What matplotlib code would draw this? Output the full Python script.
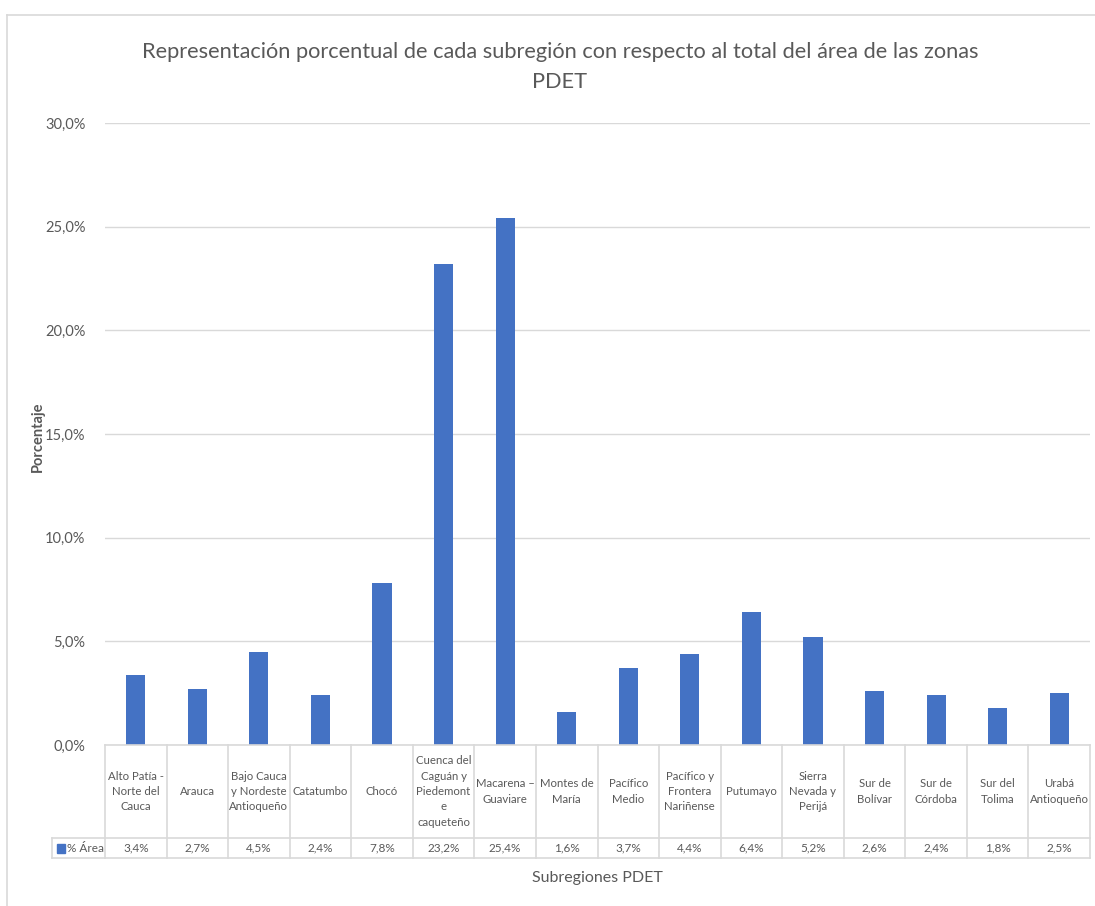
import matplotlib.pyplot as plt
from matplotlib.lines import Line2D
from matplotlib.patches import Rectangle
from matplotlib.ticker import FuncFormatter

categorias = ['Alto Patía -\nNorte del\nCauca', 'Arauca', 'Bajo Cauca\ny Nordeste\nAntioqueño',
              'Catatumbo', 'Chocó', 'Cuenca del\nCaguán y\nPiedemont\ne\ncaqueteño',
              'Macarena –\nGuaviare', 'Montes de\nMaría', 'Pacífico\nMedio',
              'Pacífico y\nFrontera\nNariñense', 'Putumayo', 'Sierra\nNevada y\nPerijá',
              'Sur de\nBolívar', 'Sur de\nCórdoba', 'Sur del\nTolima', 'Urabá\nAntioqueño']
area = [0.034, 0.027, 0.045, 0.024, 0.078, 0.232, 0.254, 0.016,
        0.037, 0.044, 0.064, 0.052, 0.026, 0.024, 0.018, 0.025]
serie = '% Área'

W, H = 1095, 906
azul = '#4472C4'
gris = '#595959'
linea = '#D9D9D9'
plt.rcParams['font.family'] = ['Lato', 'DejaVu Sans']

fig = plt.figure(figsize=(W / 100, H / 100), dpi=100)


def fx(px):
    return px / W


def fy(py):
    return 1 - py / H


x0, x1, yb, yt = 105, 1090, 745, 123
ax = fig.add_axes([fx(x0), fy(yb), fx(x1) - fx(x0), fy(yt) - fy(yb)])
n = len(categorias)
ax.bar(range(n), area, width=0.31, color=azul, zorder=3)
ax.set_xlim(-0.5, n - 0.5)
ax.set_ylim(0, 0.30)
ax.set_yticks([0, 0.05, 0.10, 0.15, 0.20, 0.25, 0.30])
ax.yaxis.set_major_formatter(FuncFormatter(lambda v, p: f'{v * 100:.1f}%'.replace('.', ',')))
ax.tick_params(axis='y', length=0, pad=14, labelsize=10.5, labelcolor=gris)
ax.set_xticks([])
ax.grid(axis='y', color=linea, linewidth=1, zorder=0)
for s in ax.spines.values():
    s.set_visible(False)

# marco del grafico
fig.add_artist(Line2D([fx(7), fx(7)], [fy(15), fy(906)], color=linea, lw=1.2))
fig.add_artist(Line2D([fx(7), fx(1095)], [fy(15), fy(15)], color=linea, lw=1.2))

# tabla de datos
col_w = (x1 - x0) / n
y_cat_bot, y_dat_bot = 838, 858
for k in range(n + 1):
    xk = x0 + k * col_w
    fig.add_artist(Line2D([fx(xk), fx(xk)], [fy(yb), fy(y_dat_bot)], color=linea, lw=1.2))
fig.add_artist(Line2D([fx(52), fx(52)], [fy(y_cat_bot), fy(y_dat_bot)], color=linea, lw=1.2))
fig.add_artist(Line2D([fx(x0), fx(x1)], [fy(yb), fy(yb)], color=linea, lw=1.2))
for yy in (y_cat_bot, y_dat_bot):
    fig.add_artist(Line2D([fx(52), fx(x1)], [fy(yy), fy(yy)], color=linea, lw=1.2))

for i, (c, v) in enumerate(zip(categorias, area)):
    xc = x0 + (i + 0.5) * col_w
    fig.text(fx(xc), fy((yb + y_cat_bot) / 2), c, ha='center', va='center',
             fontsize=8.2, color=gris, linespacing=1.5)
    fig.text(fx(xc), fy((y_cat_bot + y_dat_bot) / 2), f'{v * 100:.1f}%'.replace('.', ','),
             ha='center', va='center', fontsize=8.5, color=gris)

fig.add_artist(Rectangle((fx(57), fy(853)), fx(8), fy(844) - fy(853), color=azul))
fig.text(fx(67), fy((y_cat_bot + y_dat_bot) / 2), serie, ha='left', va='center',
         fontsize=8.5, color=gris)

fig.text(fx(560), fy(67), 'Representación porcentual de cada subregión con respecto al total del área de las zonas\nPDET',
         ha='center', va='center', fontsize=15.7, color=gris, linespacing=1.65)
fig.text(fx(38), fy(437), 'Porcentaje', rotation=90, ha='center', va='center',
         fontsize=10.5, color=gris, fontweight='bold')
fig.text(fx(597), fy(878), 'Subregiones PDET', ha='center', va='center',
         fontsize=11.5, color=gris)

fig.savefig('out.png', dpi=100, facecolor='white')
